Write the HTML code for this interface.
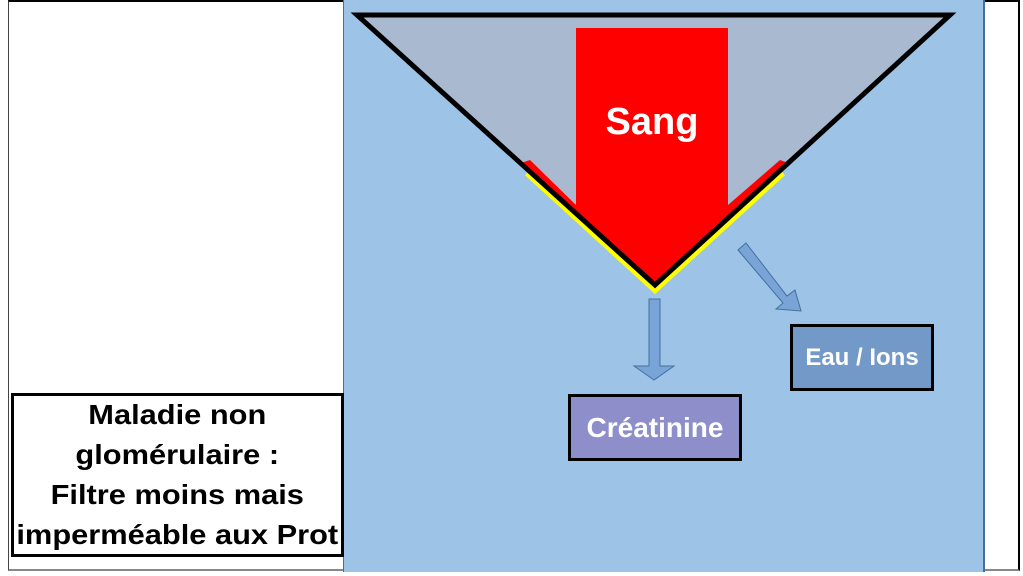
<!DOCTYPE html>
<html><head><meta charset="utf-8"><style>
html,body{margin:0;padding:0;background:#fff;width:1023px;height:576px;overflow:hidden;position:relative;font-family:"Liberation Sans",sans-serif}
.frame{position:absolute;left:8px;top:0;width:1012px;height:571px;border-top:2px solid #000;border-left:1px solid #444;border-right:2px solid #000;border-bottom:2px solid #888;box-sizing:border-box}
.panel{position:absolute;left:343px;top:0;width:642px;height:572px;background:#9dc3e6;border-left:1px solid #41719c;border-right:2px solid #41719c;box-sizing:border-box}
.box{position:absolute;box-sizing:border-box;border:3px solid #000;color:#fff;font-weight:bold;display:flex;align-items:center;justify-content:center;white-space:nowrap}
.left{position:absolute;left:11px;top:393px;width:333px;height:164px;border:3px solid #000;box-sizing:border-box;background:#fff;font-weight:bold;font-size:28px;line-height:40px;text-align:center;display:flex;align-items:center;justify-content:center;white-space:nowrap}
.left div{transform:scale(1.1,1)}
</style></head><body>
<div class="frame"></div>
<div class="panel"></div>
<svg width="1023" height="576" style="position:absolute;left:0;top:0">
<polygon points="357,15 950,15 655,285" fill="#a9b9cf" stroke="none"/>
<polyline points="527,173 655,290 783,173" fill="none" stroke="#ffff00" stroke-width="6"/>
<polygon points="576,28 728,28 728,205 780,160 788,163 655,285 521,163 530,160 576,205" fill="#ff0000"/>
<polygon points="357,15 950,15 655,285" fill="none" stroke="#000" stroke-width="5" stroke-linejoin="miter"/>
<text x="652" y="134" fill="#fff" font-family="Liberation Sans, sans-serif" font-weight="bold" font-size="38" text-anchor="middle">Sang</text>
<polygon points="649,299 660,299 660,366 674,366 654,380 634,366 649,366" fill="#7aa3d8" stroke="#41719c" stroke-width="1"/>
<polygon points="738,250 746,243 787,296 795,290 801,311 776,309 783,303" fill="#7aa3d8" stroke="#41719c" stroke-width="1"/>
</svg>
<div class="box" style="left:568px;top:394px;width:174px;height:67px;background:#8e8ecb;font-size:28px">Créatinine</div>
<div class="box" style="left:790px;top:324px;width:144px;height:67px;background:#7399c8;font-size:24px">Eau / Ions</div>
<div class="left"><div>Maladie non<br>glomérulaire :<br>Filtre moins mais<br>imperméable aux Prot</div></div>
</body></html>
